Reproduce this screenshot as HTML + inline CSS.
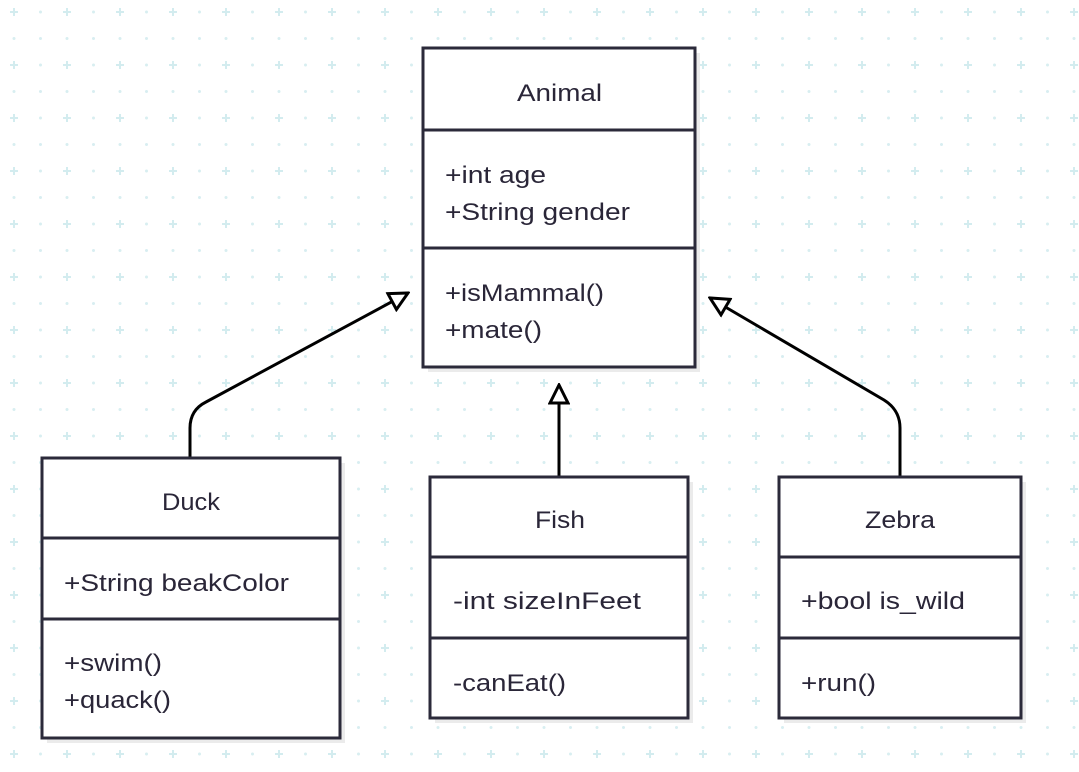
<!DOCTYPE html>
<html><head><meta charset="utf-8"><style>
html,body{margin:0;padding:0;background:#fff;}
svg{display:block;}
text{font-family:"Liberation Sans",sans-serif;font-size:24px;fill:#2a2638;}
</style></head><body>
<svg width="1079" height="772" xmlns="http://www.w3.org/2000/svg">
<defs>
<pattern id="g" x="0" y="0" width="53" height="53" patternUnits="userSpaceOnUse">
<path d="M10 12h8M14 8v8" stroke="#d3ecef" stroke-width="2"/>
<circle cx="40.5" cy="12" r="1.5" fill="#d8eef1"/>
<circle cx="14" cy="38.5" r="1.5" fill="#d8eef1"/>
<circle cx="40.5" cy="38.5" r="1.5" fill="#d8eef1"/>
</pattern>
<marker id="a" viewBox="0 0 22 22" refX="20" refY="11" markerWidth="22" markerHeight="22" markerUnits="userSpaceOnUse" orient="auto">
<path d="M2 2 L20 11 L2 20 Z" fill="#fff" stroke="#000" stroke-width="3"/>
</marker>
</defs>
<rect width="1079" height="772" fill="url(#g)"/>
<g fill="#ebebeb">
<rect x="428" y="53" width="272" height="319"/>
<rect x="47" y="463" width="298" height="280"/>
<rect x="435" y="482" width="258" height="241"/>
<rect x="784" y="482" width="242" height="241"/>
</g>
<g fill="none" stroke="#000" stroke-width="3">
<path d="M190 458 V428 Q190 410 206 402 L408 293" marker-end="url(#a)"/>
<path d="M559 477 V385" marker-end="url(#a)"/>
<path d="M900 477 V428 Q900 410 884 400 L710 298" marker-end="url(#a)"/>
</g>
<g fill="#fff" stroke="#2b2a3a" stroke-width="3">
<rect x="423" y="48" width="272" height="319"/>
<rect x="42" y="458" width="298" height="280"/>
<rect x="430" y="477" width="258" height="241"/>
<rect x="779" y="477" width="242" height="241"/>
<path d="M423 130H695M423 248H695M42 538H340M42 619H340M430 557H688M430 638H688M779 557H1021M779 638H1021"/>
</g>
<g lengthAdjust="spacingAndGlyphs">
<text x="517" y="101" textLength="85" lengthAdjust="spacingAndGlyphs">Animal</text>
<text x="445" y="183" textLength="101" lengthAdjust="spacingAndGlyphs">+int age</text>
<text x="445" y="220" textLength="185" lengthAdjust="spacingAndGlyphs">+String gender</text>
<text x="445" y="301" textLength="159" lengthAdjust="spacingAndGlyphs">+isMammal()</text>
<text x="445" y="338" textLength="97" lengthAdjust="spacingAndGlyphs">+mate()</text>
<text x="162" y="510" textLength="58" lengthAdjust="spacingAndGlyphs">Duck</text>
<text x="64" y="591" textLength="225" lengthAdjust="spacingAndGlyphs">+String beakColor</text>
<text x="64" y="671" textLength="98" lengthAdjust="spacingAndGlyphs">+swim()</text>
<text x="64" y="708" textLength="107" lengthAdjust="spacingAndGlyphs">+quack()</text>
<text x="535" y="528" textLength="50" lengthAdjust="spacingAndGlyphs">Fish</text>
<text x="453" y="609" textLength="188" lengthAdjust="spacingAndGlyphs">-int sizeInFeet</text>
<text x="453" y="691" textLength="113" lengthAdjust="spacingAndGlyphs">-canEat()</text>
<text x="865" y="528" textLength="70" lengthAdjust="spacingAndGlyphs">Zebra</text>
<text x="801" y="609" textLength="164" lengthAdjust="spacingAndGlyphs">+bool is_wild</text>
<text x="801" y="691" textLength="75" lengthAdjust="spacingAndGlyphs">+run()</text>
</g>
</svg>
</body></html>
